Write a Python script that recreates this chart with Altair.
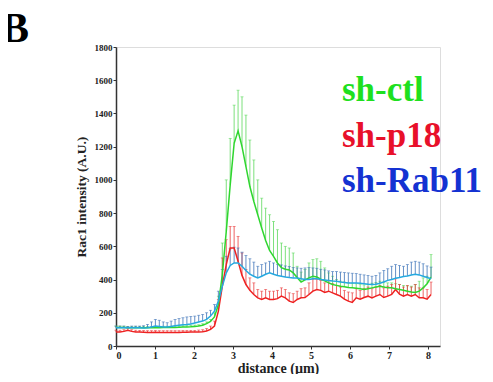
import altair as alt
import pandas as pd

N = 81
step = 0.101
x_vals = [round(i * step, 3) for i in range(N)]

green_mean = [112,112,111,110,110,110,110,110,110,110,
              110,110,111,111,112,112,113,114,115,116,
              118,120,125,135,148,175,250,430,690,970,
              1220,1295,1200,1080,960,870,790,710,635,575,
              540,500,472,462,458,440,412,385,398,410,
              420,415,402,392,380,370,365,360,356,352,
              350,348,345,340,345,350,355,360,355,350,
              350,345,340,335,330,325,322,330,350,375,415]
green_upper = [120,120,119,118,118,118,118,118,118,118,
               118,118,119,119,120,120,121,122,123,124,
               126,128,134,145,160,200,300,620,1000,1250,
               1450,1540,1500,1390,1240,1120,1000,890,830,790,
               750,700,620,600,590,560,480,445,460,500,
               520,525,510,470,440,420,400,390,385,380,
               378,375,372,368,372,378,382,390,385,380,
               380,375,370,365,362,360,370,390,410,420,550]

red_mean = [85,85,88,95,88,85,84,83,82,82,
            83,82,82,82,82,82,82,83,83,84,
            84,85,86,90,100,120,210,360,490,590,
            590,510,425,370,335,310,290,280,290,280,
            280,285,300,290,270,262,280,290,292,310,
            330,340,335,322,330,320,310,300,282,270,
            262,290,282,292,300,290,300,310,292,300,
            310,340,312,300,310,300,310,290,290,282,310]
red_upper = [95,95,98,105,98,95,94,93,92,92,
             93,92,92,92,92,92,92,93,93,94,
             94,96,98,105,120,150,280,530,640,720,
             720,660,560,460,410,380,340,330,340,330,
             330,335,350,340,320,315,330,345,350,380,
             400,400,395,380,385,375,365,355,335,325,
             320,345,335,345,355,345,355,365,350,360,
             370,405,370,355,365,355,370,350,350,340,385]

blue_mean = [110,110,110,110,110,110,110,108,110,115,
             120,118,115,115,118,122,125,128,130,133,
             138,145,150,160,180,210,270,360,440,485,
             500,500,480,455,432,420,410,420,432,440,
             432,425,420,415,412,410,410,405,400,400,
             405,405,400,398,395,392,390,385,382,380,
             380,380,378,375,372,370,372,378,385,395,
             400,408,412,418,422,428,432,428,420,412,405]
blue_upper = [120,120,120,118,120,120,120,122,130,145,
              160,155,145,140,150,160,165,170,175,178,
              180,185,190,200,215,250,330,460,540,585,
              595,590,565,545,525,505,480,490,500,510,
              500,492,488,482,478,472,470,468,470,472,
              470,468,462,458,452,448,448,445,442,440,
              438,436,432,428,425,420,425,440,455,465,
              480,490,485,480,490,505,510,505,495,482,475]

x_ticks = [0, 1, 2, 3, 4, 5, 6, 7, 8]
y_ticks = [0, 200, 400, 600, 800, 1000, 1200, 1400, 1600, 1800]

series_names = ["sh-ctl", "sh-p18", "sh-Rab11"]
line_colors = ["#2fd62f", "#ee2222", "#25a9e0"]
bar_colors = ["#5ad85a", "#ea3b3b", "#3c72b8"]
legend_colors = ["#1ee01e", "#e8102a", "#1432d2"]

means = [green_mean, red_mean, blue_mean]
uppers = [green_upper, red_upper, blue_upper]

FONT = "Liberation Serif"

xscale = alt.Scale(domain=[0, 8.31], nice=False, zero=False)
yscale = alt.Scale(domain=[0, 1800], nice=False)

xaxis = alt.Axis(values=x_ticks, format="d", grid=False, tickSize=3,
                 labelOverlap=False,
                 labelFont=FONT, labelFontWeight="bold", labelFontSize=10,
                 labelColor="#222222", domainColor="#333333", tickColor="#333333",
                 domainWidth=1.5, labelPadding=1,
                 title="distance (µm)", titleFont=FONT, titleFontSize=14,
                 titleFontWeight="bold", titleColor="#222222", titlePadding=1)
yaxis = alt.Axis(values=y_ticks, format="d", grid=False, tickSize=3,
                 labelOverlap=False,
                 labelFont=FONT, labelFontWeight="bold", labelFontSize=9,
                 labelColor="#222222", domainColor="#333333", tickColor="#333333",
                 domainWidth=1.5, labelPadding=1,
                 title="Rac1 intensity (A.U.)", titleFont=FONT, titleFontSize=13.5,
                 titleFontWeight="bold", titleColor="#222222", titlePadding=6)

X = lambda f: alt.X(f, scale=xscale, axis=xaxis)
Y = lambda f: alt.Y(f, scale=yscale, axis=yaxis)

layers = []
frames = []
for name, m, u in zip(series_names, means, uppers):
    frames.append(pd.DataFrame({"x": x_vals, "mean": m, "upper": u, "series": name}))

# error bars
for df, bc in zip(frames, bar_colors):
    base = alt.Chart(df)
    layers.append(base.mark_rule(color=bc, strokeWidth=0.8).encode(
        x=X("x:Q"), y=Y("mean:Q"), y2="upper:Q"))
    layers.append(base.mark_tick(color=bc, orient="horizontal", size=3, thickness=0.8).encode(
        x=X("x:Q"), y=Y("upper:Q")))

# mean lines
for df, lc in zip([frames[1], frames[0], frames[2]], [line_colors[1], line_colors[0], line_colors[2]]):
    layers.append(alt.Chart(df).mark_line(color=lc, strokeWidth=1.5).encode(
        x=X("x:Q"), y=Y("mean:Q")))

PAD_L, PAD_T = 108, 39

# legend texts
legend_y = [101, 147, 192]
for name, col, ly in zip(series_names, legend_colors, legend_y):
    layers.append(alt.Chart(pd.DataFrame({"t": [name]})).mark_text(
        font=FONT, fontWeight="bold", fontSize=35, color=col, align="left",
        baseline="alphabetic").encode(
        text="t:N", x=alt.value(342 - 8 - PAD_L), y=alt.value(ly - 8 - PAD_T)))

# panel label
layers.append(alt.Chart(pd.DataFrame({"t": ["B"]})).mark_text(
    font=FONT, fontWeight="bold", fontSize=42, color="#000000", align="left",
    baseline="alphabetic").encode(
    text="t:N", x=alt.value(1 - 8 - PAD_L), y=alt.value(42 - 8 - PAD_T)))

chart = alt.layer(*layers).properties(
    width=324, height=299,
    autosize=alt.AutoSizeParams(type="none"),
    padding={"left": PAD_L, "top": PAD_T, "right": 45, "bottom": 28},
).configure_view(stroke=None).configure(background="white")

chart.save("out.html", embed_options={"renderer": "svg", "actions": False})
